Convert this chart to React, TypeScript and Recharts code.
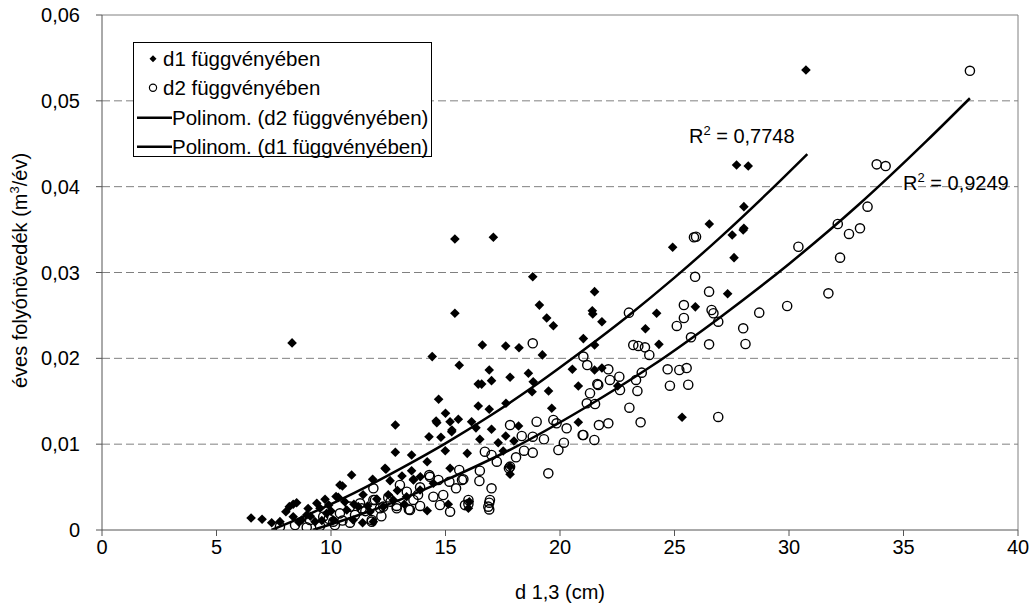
import React from "react";
import {
  ComposedChart,
  Scatter,
  Line,
  XAxis,
  YAxis,
  ReferenceLine,
  ReferenceDot,
  Legend,
  Label,
} from "recharts";

// ---------- data ----------
const xTicks = [0, 5, 10, 15, 20, 25, 30, 35, 40];
const yTicks = [0, 0.01, 0.02, 0.03, 0.04, 0.05, 0.06];
const yTickLabels = ["0", "0,01", "0,02", "0,03", "0,04", "0,05", "0,06"];
const gridValues = [0.01, 0.02, 0.03, 0.04, 0.05];

const legendLabels = [
  "d1 függvényében",
  "d2 függvényében",
  "Polinom. (d2 függvényében)",
  "Polinom. (d1 függvényében)",
];
const r2Labels = ["0,7748", "0,9249"];
const r2Positions = [
  [25.63, 0.0451],
  [34.98, 0.0396],
];

// d1 (diamonds): [d 1,3 , growth]
const d1Points: [number, number][] = [
  [30.74, 0.0536], [8.3, 0.0218], [15.41, 0.0339], [17.09, 0.0341], [18.81, 0.0295],
  [15.41, 0.02525], [19.1, 0.0262], [19.42, 0.0247], [19.71, 0.0238], [16.61, 0.02155],
  [17.63, 0.02144], [18.21, 0.02124], [14.42, 0.0202], [15.6, 0.0192], [19.23, 0.0204],
  [21.02, 0.0223], [16.91, 0.01864], [17.01, 0.0174], [17.82, 0.0178], [18.62, 0.01826],
  [16.43, 0.017], [16.58, 0.017], [20.54, 0.01872], [20.8, 0.01678], [18.83, 0.01728],
  [14.7, 0.01523], [12.81, 0.01223], [15.0, 0.0136], [14.59, 0.0127], [14.62, 0.0125],
  [15.2, 0.01262], [15.56, 0.0129], [15.28, 0.01165], [16.14, 0.01262], [16.33, 0.0119],
  [17.01, 0.01173], [17.63, 0.01095], [17.99, 0.01037], [18.19, 0.01212], [18.78, 0.01611],
  [19.5, 0.0162], [19.64, 0.01418], [20.8, 0.01255], [14.28, 0.01087], [14.8, 0.0108],
  [16.5, 0.01057], [17.3, 0.01017], [17.52, 0.0092], [15.95, 0.00893], [14.99, 0.00924],
  [12.81, 0.00905], [13.52, 0.00874], [14.2, 0.00796], [12.4, 0.00707], [13.52, 0.0069],
  [15.2, 0.00719], [10.9, 0.0064], [10.5, 0.00513], [11.82, 0.0059], [12.58, 0.00575],
  [13.6, 0.0059], [17.82, 0.00649], [14.2, 0.00225], [15.12, 0.003], [16.0, 0.00253],
  [11.38, 0.00085], [10.22, 0.0039], [24.92, 0.03294], [27.52, 0.03437], [27.6, 0.03173],
  [28.0, 0.03495], [21.51, 0.02777], [21.41, 0.02555], [21.43, 0.02517], [21.83, 0.02427],
  [21.51, 0.02155], [24.22, 0.02525], [23.73, 0.02345], [24.32, 0.02163], [25.91, 0.026],
  [27.32, 0.02753], [21.51, 0.01864], [21.83, 0.01887], [22.52, 0.01678], [27.71, 0.04253],
  [28.22, 0.04241], [28.03, 0.03767], [26.52, 0.03565], [28.03, 0.03515], [25.33, 0.01313],
  [6.51, 0.0014], [6.99, 0.00125], [7.41, 0.00085], [7.77, 0.00097], [8.03, 0.00213],
  [8.18, 0.00272], [8.5, 0.00318], [8.35, 0.00155], [8.94, 0.00175], [9.38, 0.00311],
  [9.74, 0.00357], [10.39, 0.00524], [10.32, 0.0038], [12.36, 0.0072], [13.6, 0.00583],
  [9.81, 0.00194], [8.72, 0.00117], [9.3, 0.00097], [9.52, 0.00253], [10.1, 0.00117],
  [10.69, 0.00233], [11.19, 0.00272], [11.7, 0.00213], [12.28, 0.00272], [12.72, 0.0035],
  [13.3, 0.00388], [11.85, 0.00097], [10.97, 0.00117], [16.91, 0.01406], [16.43, 0.01445],
  [17.64, 0.01476], [15.27, 0.01145], [16.04, 0.0033], [14.47, 0.00544], [13.89, 0.00466],
  [8.35, 0.003], [9.0, 0.0025], [9.9, 0.0029], [10.6, 0.0033], [11.4, 0.0041],
  [11.0, 0.003], [12.0, 0.0036], [12.9, 0.0046], [13.1, 0.0063], [13.9, 0.0062],
  [9.6, 0.0011], [8.6, 0.0009], [17.82, 0.0074], [9.1, 0.0016], [10.0, 0.0022],
  [11.6, 0.0028], [12.5, 0.0041], [13.2, 0.0030],
];

// d2 (open circles)
const d2Points: [number, number][] = [
  [37.9, 0.0535], [33.83, 0.0426], [34.22, 0.0424], [33.43, 0.03767], [32.13, 0.03565],
  [32.62, 0.03449], [33.1, 0.03515], [30.41, 0.033], [32.23, 0.03173], [25.85, 0.0341],
  [25.94, 0.03417], [25.9, 0.0295], [26.51, 0.02777], [25.41, 0.02621], [26.62, 0.02563],
  [26.7, 0.02525], [26.91, 0.02427], [25.41, 0.0247], [25.1, 0.02377], [25.72, 0.02245],
  [26.51, 0.02163], [28.0, 0.0235], [28.1, 0.02167], [28.7, 0.02532], [29.92, 0.0261],
  [31.72, 0.02757], [23.01, 0.02532], [23.2, 0.02155], [23.42, 0.02144], [23.71, 0.02128],
  [23.9, 0.02039], [21.02, 0.0202], [21.19, 0.01922], [22.11, 0.01872], [22.59, 0.01786],
  [23.57, 0.01833], [24.7, 0.01872], [25.21, 0.01864], [25.53, 0.01887], [24.8, 0.01681],
  [25.6, 0.01693], [21.63, 0.017], [22.18, 0.01748], [23.32, 0.01748], [18.81, 0.02175],
  [23.03, 0.01425], [22.11, 0.01243], [21.7, 0.01223], [23.52, 0.01255], [26.91, 0.01317],
  [21.02, 0.01107], [21.5, 0.01049], [23.38, 0.0162], [22.62, 0.01631], [21.67, 0.0169],
  [21.31, 0.01593], [21.17, 0.01476], [21.53, 0.01468], [17.82, 0.01223], [18.33, 0.01095],
  [18.81, 0.01087], [18.98, 0.01262], [19.3, 0.01057], [19.71, 0.01282], [19.85, 0.01243],
  [20.29, 0.01185], [20.99, 0.01107], [20.17, 0.01017], [19.93, 0.00932], [18.81, 0.00901],
  [18.43, 0.00924], [18.08, 0.00847], [16.72, 0.00912], [17.01, 0.00874], [17.24, 0.00796],
  [16.5, 0.00691], [15.6, 0.00699], [15.72, 0.00583], [16.48, 0.00571], [17.01, 0.00486],
  [16.94, 0.0035], [16.87, 0.00272], [17.82, 0.00738], [19.49, 0.0066], [14.29, 0.0064],
  [14.69, 0.00583], [15.17, 0.00563], [15.46, 0.00486], [14.9, 0.00408], [14.47, 0.00388],
  [13.89, 0.00497], [13.31, 0.00446], [14.76, 0.00291], [13.89, 0.0028], [16.0, 0.0035],
  [16.91, 0.00318], [16.91, 0.0024], [17.77, 0.00719], [15.78, 0.0059], [15.2, 0.00213],
  [16.0, 0.00303], [11.78, 0.00097], [13.45, 0.00233], [12.87, 0.0028], [12.28, 0.00272],
  [11.27, 0.00311], [10.1, 0.00097], [13.01, 0.00524], [14.32, 0.0062], [11.85, 0.0035],
  [10.83, 0.00272], [10.39, 0.00194], [11.85, 0.00486], [11.92, 0.0035], [12.14, 0.00253],
  [12.87, 0.00253], [13.4, 0.0024], [11.78, 0.00117], [10.83, 0.00085], [10.17, 0.00058],
  [9.52, 0.00047], [8.94, 0.00031], [8.43, 0.00058], [9.08, 0.00117], [9.66, 0.00155],
  [11.05, 0.00175], [11.34, 0.00253], [7.77, 0.00038], [12.5, 0.0038], [13.6, 0.0035],
  [12.2, 0.0016], [9.9, 0.0013], [10.5, 0.0011], [11.5, 0.0022], [12.6, 0.0033],
  [13.8, 0.0041], [15.85, 0.0029],
];

// polynomial trend lines
const trendD1X = [7.4, 9, 11, 13, 15, 17, 19, 21, 23, 25, 27, 29, 30.8];
const trendD1Y = [0, 0.0018, 0.0043, 0.0071, 0.0101, 0.0134, 0.017, 0.0209, 0.025, 0.0294, 0.0341, 0.0391, 0.0438];
const trendD2X = [9.2, 11, 13, 15, 18, 21, 24, 27, 30, 33, 36, 37.9];
const trendD2Y = [0, 0.00155, 0.0035, 0.0058, 0.0096, 0.0141, 0.0191, 0.0248, 0.031, 0.0378, 0.0453, 0.0503];

// ---------- built tables ----------
const d1Data = d1Points.map(([x, y]) => ({ x, y }));
const d2Data = d2Points.map(([x, y]) => ({ x, y }));
const trendD1 = trendD1X.map((x, i) => ({ x, y: trendD1Y[i] }));
const trendD2 = trendD2X.map((x, i) => ({ x, y: trendD2Y[i] }));

const FONT = "'Liberation Sans', Arial, Helvetica, sans-serif";
const FS = 20;

const Diamond = (p: any) => {
  const { cx, cy } = p;
  const s = 4.8;
  return <path d={`M${cx},${cy - s}L${cx + s},${cy}L${cx},${cy + s}L${cx - s},${cy}Z`} fill="#000" />;
};
const Ring = (p: any) => (
  <circle cx={p.cx} cy={p.cy} r={4.6} fill="none" stroke="#000" strokeWidth={1.4} />
);

const renderLegend = () => {
  const rowH = 29.5;
  return (
    <div
      style={{
        width: 299,
        height: 115,
        boxSizing: "border-box",
        border: "1px solid #000",
        background: "#fff",
        fontFamily: FONT,
        fontSize: 20.5,
        color: "#000",
        position: "relative",
      }}
    >
      {legendLabels.map((lab, i) => {
        const top = 0.5 + i * rowH;
        return (
          <div key={i} style={{ position: "absolute", left: 0, top, height: rowH, width: 297 }}>
            <svg width={40} height={rowH} style={{ position: "absolute", left: 0, top: 0 }}>
              {i === 0 && (
                <path d={`M19,${rowH / 2 - 3.5}L22.5,${rowH / 2}L19,${rowH / 2 + 3.5}L15.5,${rowH / 2}Z`} fill="#000" />
              )}
              {i === 1 && <circle cx={19} cy={rowH / 2} r={3.6} fill="none" stroke="#000" strokeWidth={1.2} />}
              {i >= 2 && <line x1={3} x2={38} y1={rowH / 2} y2={rowH / 2} stroke="#000" strokeWidth={2.5} />}
            </svg>
            <span
              style={{
                position: "absolute",
                left: i >= 2 ? 38 : 29,
                top: 0,
                lineHeight: `${rowH}px`,
                whiteSpace: "nowrap",
              }}
            >
              {lab}
            </span>
          </div>
        );
      })}
    </div>
  );
};

const r2Label = (text: string) => (props: any) => {
  const vb = props.viewBox || {};
  const x = vb.x + (vb.width || 0) / 2;
  const y = vb.y + (vb.height || 0) / 2;
  return (
    <text x={x} y={y} fontFamily={FONT} fontSize={FS} fill="#000">
      <tspan>R</tspan>
      <tspan dy={-8} fontSize={13}>2</tspan>
      <tspan dy={8} fontSize={FS}>{` = ${text}`}</tspan>
    </text>
  );
};

const yTitle = (props: any) => {
  const vb = props.viewBox || { x: 0, y: 15, width: 102, height: 515 };
  const cx = vb.x + 27;
  const cy = vb.y + vb.height / 2 - 2;
  return (
    <text
      x={cx}
      y={cy}
      transform={`rotate(-90, ${cx}, ${cy})`}
      textAnchor="middle"
      fontFamily={FONT}
      fontSize={FS}
      fill="#000"
    >
      <tspan>éves folyónövedék (m</tspan>
      <tspan dy={-8} fontSize={13}>3</tspan>
      <tspan dy={8}>/év)</tspan>
    </text>
  );
};

const xTitle = (props: any) => {
  const vb = props.viewBox || { x: 102, y: 530, width: 916, height: 79 };
  return (
    <text
      x={vb.x + vb.width / 2}
      y={vb.y + 69}
      textAnchor="middle"
      fontFamily={FONT}
      fontSize={FS}
      fill="#000"
    >
      d 1,3 (cm)
    </text>
  );
};

export default function App() {
  return (
    <div style={{ position: "absolute", left: 0, top: 0, width: 1029, height: 609, background: "#fff" }}>
      <ComposedChart
        width={1029}
        height={609}
        margin={{ top: 15, right: 11, bottom: 0, left: 0 }}
        style={{ fontFamily: FONT }}
      >
        <XAxis
          type="number"
          dataKey="x"
          domain={[0, 40]}
          ticks={xTicks}
          allowDataOverflow
          height={79}
          tickSize={6}
          tickMargin={4}
          stroke="#555"
          tick={{ fill: "#000", fontSize: FS, fontFamily: FONT }}
          tickLine={{ stroke: "#555" }}
        >
          <Label content={xTitle} />
        </XAxis>
        <YAxis
          type="number"
          dataKey="y"
          domain={[0, 0.06]}
          ticks={yTicks}
          allowDataOverflow
          width={102}
          tickSize={6}
          tickMargin={16}
          stroke="#555"
          tickFormatter={(v: number) => yTickLabels[yTicks.indexOf(v)] ?? String(v)}
          tick={{ fill: "#000", fontSize: FS, fontFamily: FONT }}
          tickLine={{ stroke: "#555" }}
        >
          <Label content={yTitle} />
        </YAxis>

        {gridValues.map((v) => (
          <ReferenceLine key={v} y={v} stroke="#808080" strokeWidth={1} strokeDasharray="8 4" />
        ))}
        <ReferenceLine y={0.06} stroke="#808080" strokeWidth={1} />
        <ReferenceLine x={40} stroke="#808080" strokeWidth={1} />

        <Scatter name={legendLabels[0]} data={d1Data} shape={Diamond} isAnimationActive={false} />
        <Scatter name={legendLabels[1]} data={d2Data} shape={Ring} isAnimationActive={false} />

        <Line
          name={legendLabels[2]}
          data={trendD2}
          dataKey="y"
          type="monotone"
          stroke="#000"
          strokeWidth={2.5}
          dot={false}
          activeDot={false}
          isAnimationActive={false}
        />
        <Line
          name={legendLabels[3]}
          data={trendD1}
          dataKey="y"
          type="monotone"
          stroke="#000"
          strokeWidth={2.5}
          dot={false}
          activeDot={false}
          isAnimationActive={false}
        />

        <ReferenceDot
          x={r2Positions[0][0]}
          y={r2Positions[0][1]}
          r={0}
          fill="none"
          stroke="none"
          label={{ content: r2Label(r2Labels[0]) }}
        />
        <ReferenceDot
          x={r2Positions[1][0]}
          y={r2Positions[1][1]}
          r={0}
          fill="none"
          stroke="none"
          label={{ content: r2Label(r2Labels[1]) }}
        />

        <Legend
          layout="vertical"
          align="center"
          verticalAlign="middle"
          wrapperStyle={{ left: 133, top: 42, width: 299, height: 115 }}
          content={renderLegend}
        />
      </ComposedChart>
    </div>
  );
}
